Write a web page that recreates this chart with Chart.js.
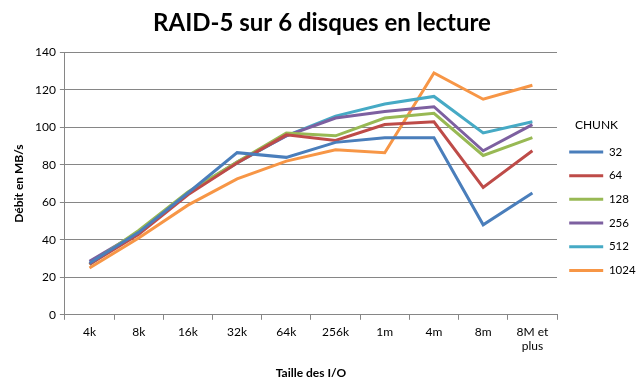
<!DOCTYPE html>
<html><head><meta charset="utf-8">
<script src="https://cdn.jsdelivr.net/npm/chart.js@4"></script>
<style>html,body{margin:0;padding:0;background:#fff}#wrap{width:636px;height:382px;position:relative}</style>
</head><body><div id="wrap"><canvas id="c" width="636" height="382"></canvas></div>
<script>
const categories = ['4k','8k','16k','32k','64k','256k','1m','4m','8m',['8M et','plus']];
const seriesNames = ['32','64','128','256','512','1024'];
const s32   = [27.5, 44, 65, 86.5, 84, 92, 94.5, 94.5, 48, 65];
const s64   = [27, 43, 64, 81, 96, 93, 101.5, 103, 68, 87.5];
const s128  = [27, 45, 65.5, 81.5, 97, 95.5, 105, 107.5, 85, 94.5];
const s256  = [28.5, 44, 65, 81.5, 95.5, 105, 108.5, 111, 87.5, 101.5];
const s512  = [27, 44, 65, 81, 95.5, 106, 112.5, 116.5, 97, 103];
const s1024 = [25, 41, 58.5, 72.5, 82, 88, 86.5, 129, 115, 122.5];
const yTicks = [0,20,40,60,80,100,120,140];
const colors = ['#4A7EBB','#BE4B48','#98B954','#7D60A0','#46AAC5','#F79646'];
const allSeries = [s32,s64,s128,s256,s512,s1024];
const FONT = 'Lato, "Open Sans", sans-serif';

new Chart(document.getElementById('c'), {
  type: 'line',
  data: {
    labels: categories,
    datasets: allSeries.map((d,i)=>({
      label: seriesNames[i], data: d, borderColor: colors[i], backgroundColor: colors[i],
      borderWidth: 3, pointRadius: 0, tension: 0, fill: false
    }))
  },
  options: {
    responsive: false, animation: false,
    layout: { padding: { left: 8, right: 0, top: 4, bottom: 2 } },
    plugins: {
      title: { display: true, text: 'RAID-5 sur 6 disques en lecture', color: '#000',
        font: { family: FONT, size: 24, weight: 'bold' }, padding: { top: 5, bottom: 14.6 } },
      legend: { position: 'right', align: 'center', maxWidth: 79,
        title: { display: true, text: 'CHUNK', color: '#000', font: { family: FONT, size: 12 }, padding: { top: 24, bottom: 0 } },
        labels: { usePointStyle: true, pointStyle: 'line', pointStyleWidth: 34, color: '#000', padding: 12.2,
          font: { family: FONT, size: 11.5 } } },
      tooltip: { enabled: false }
    },
    scales: {
      x: {
        offset: true,
        grid: { offset: true, drawOnChartArea: false, color: '#868686', tickLength: 5 },
        border: { color: '#868686' },
        ticks: { color: '#000', font: { family: FONT, size: 12 }, maxRotation: 0, padding: 5 },
        title: { display: true, text: 'Taille des I/O', color: '#000', font: { family: FONT, size: 12, weight: 'bold' }, padding: { top: 7, bottom: 0 } }
      },
      y: {
        min: 0, max: 140,
        afterBuildTicks: (s) => { s.ticks = yTicks.map(v=>({value:v})); },
        grid: { color: '#868686', tickLength: 5 },
        border: { color: '#868686' },
        ticks: { color: '#000', font: { family: FONT, size: 12 }, padding: 4 },
        title: { display: true, text: 'Débit en MB/s', color: '#000', font: { family: FONT, size: 12, weight: 'bold' }, padding: { top: 4, bottom: 4.6 } }
      }
    }
  }
});
</script></body></html>
